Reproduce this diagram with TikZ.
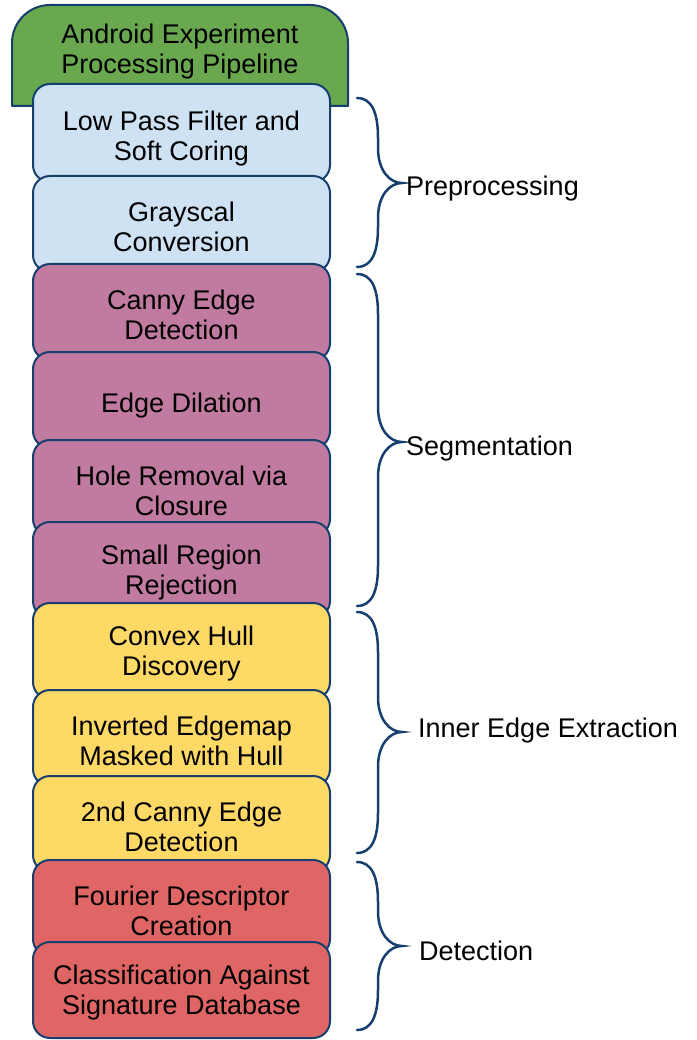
\documentclass[tikz,border=0pt]{standalone}
\usepackage{fontspec}
\setmainfont{Liberation Sans}
\definecolor{edge}{RGB}{22,63,110}
\definecolor{hdrgreen}{RGB}{106,168,79}
\definecolor{prefill}{RGB}{207,226,243}
\definecolor{segfill}{RGB}{194,123,160}
\definecolor{innfill}{RGB}{255,217,102}
\definecolor{detfill}{RGB}{224,102,102}
\newcommand{\tstrut}{\rule{0pt}{25pt}}
\newcommand{\curlyb}[3]{%
  \draw[bracestyle] (357,#1) .. controls (372,#1) and (378,{#1+15}) .. (378,{#1+40})
    -- (378,{#2-35}) .. controls (378,{#2-12}) and (390,#2) .. (402,#2)
    .. controls (390,#2) and (378,{#2+12}) .. (378,{#2+35})
    -- (378,{#3-40}) .. controls (378,{#3-15}) and (372,#3) .. (357,#3);}
\begin{document}
\begin{tikzpicture}[x=1pt,y=-1pt,
  every node/.style={font=\fontsize{27pt}{30pt}\selectfont, text=black},
  stage/.style={draw=edge, line width=2pt, rounded corners=17pt,
    minimum width=297pt, minimum height=96pt, align=center, inner sep=0pt},
  pre/.style={stage, fill=prefill},
  seg/.style={stage, fill=segfill},
  inn/.style={stage, fill=innfill},
  det/.style={stage, fill=detfill},
  bracestyle/.style={draw=edge, line width=2.5pt, line cap=round},
  lbl/.style={anchor=west, inner sep=0pt}]
\useasboundingbox (0,0) rectangle (696,1040);
% header
\filldraw[draw=edge, fill=hdrgreen, line width=2pt, line join=round]
  (12,106) -- (12,43) .. controls (12,22) and (29,5) .. (50,5) -- (310,5)
  .. controls (331,5) and (348,22) .. (348,43) -- (348,106) -- cycle;
\node[align=center, inner sep=0pt] (hdr) at (180,52) {Android Experiment\\Processing Pipeline};
% stages
\node[pre, minimum height=98pt] (s1) at (181.5,133) {\rule{0pt}{30pt}Low Pass Filter and\\Soft Coring};
\node[pre] (s2) at (181.5,224) {\tstrut Grayscal\\Conversion};
\node[seg] (s3) at (181.5,312) {\tstrut Canny Edge\\Detection};
\node[seg] (s4) at (181.5,400) {\rule{0pt}{30pt}Edge Dilation};
\node[seg] (s5) at (181.5,488) {\tstrut Hole Removal via\\Closure};
\node[seg] (s6) at (181.5,570) {\tstrut Small Region\\Rejection};
\node[inn] (s7) at (181.5,651) {\tstrut Convex Hull\\Discovery};
\node[inn] (s8) at (181.5,738) {\tstrut Inverted Edgemap\\Masked with Hull};
\node[inn] (s9) at (181.5,824) {\tstrut 2nd Canny Edge\\Detection};
\node[det] (s10) at (181.5,908) {\tstrut Fourier Descriptor\\Creation};
\node[det] (s11) at (181.5,990) {\tstrut Classification Against\\Signature Database};
% braces
\curlyb{98}{183}{267}
\curlyb{274}{442}{606}
\curlyb{612}{732}{853}
\curlyb{862}{946}{1030}
\node[lbl] (l1) at (406,189) {Preprocessing};
\node[lbl] (l2) at (406,449) {Segmentation};
\node[lbl] (l3) at (418,731) {Inner Edge Extraction};
\node[lbl] (l4) at (419,951) {Detection};
\end{tikzpicture}
\end{document}
